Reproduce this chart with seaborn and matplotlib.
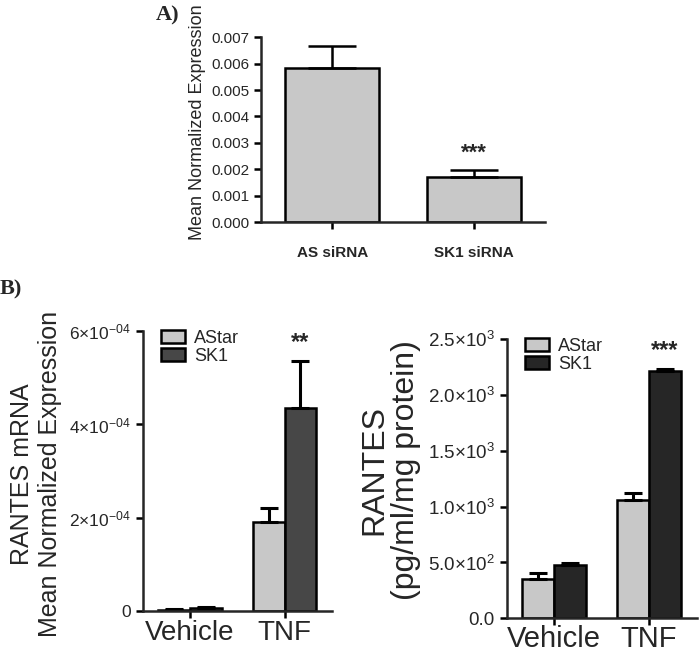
import numpy as np
import pandas as pd
import seaborn as sns
import matplotlib.pyplot as plt

# panel A data
cats_a = ["AS siRNA", "SK1 siRNA"]
mean_a = [0.00582, 0.00172]
err_a = [0.00085, 0.00026]

# panel B data
treat = ["Vehicle", "TNF"]
groups = ["AStar", "SK1"]
mrna_astar = [3e-6, 1.91e-4]
mrna_astar_err = [1e-6, 0.31e-4]
mrna_sk1 = [6e-6, 4.35e-4]
mrna_sk1_err = [2e-6, 1.0e-4]
prot_astar = [355, 1055]
prot_astar_err = [50, 65]
prot_sk1 = [475, 2215]
prot_sk1_err = [20, 20]

sns.set_style("ticks")
plt.rcParams["font.family"] = ["Liberation Sans", "DejaVu Sans"]
plt.rcParams["mathtext.fontset"] = "custom"
plt.rcParams["mathtext.rm"] = "Liberation Sans"
plt.rcParams["mathtext.it"] = "Liberation Sans:italic"
plt.rcParams["axes.linewidth"] = 1.8

fig = plt.figure(figsize=(7, 6.53), dpi=100)
ax_a = fig.add_axes([0.373, 0.660, 0.406, 0.283])
ax_b1 = fig.add_axes([0.204, 0.064, 0.270, 0.429])
ax_b2 = fig.add_axes([0.724, 0.053, 0.271, 0.428])


def style_axes(ax):
    sns.despine(ax=ax)
    ax.tick_params(width=1.8, length=5, color="black")


# ---- A
df_a = pd.DataFrame({"cat": cats_a, "val": mean_a})
sns.barplot(data=df_a, x="cat", y="val", color="#c8c8c8", edgecolor="black",
            linewidth=1.8, width=0.66, saturation=1, errorbar=None, ax=ax_a)
bars_a = list(ax_a.containers[0].patches)
for p, e in zip(bars_a, err_a):
    xc = p.get_x() + p.get_width() / 2
    ax_a.errorbar(xc, p.get_height(), yerr=[[0], [e]], color="black",
                  capsize=17, elinewidth=1.8, capthick=1.8, fmt="none")
p = bars_a[1]
ax_a.text(p.get_x() + p.get_width() / 2, 0.00222, "***", ha="center",
          va="bottom", fontsize=16, fontweight="bold")
ax_a.set_xlim(-0.5, 1.5)
ax_a.set_ylim(0, 0.007)
ax_a.set_yticks(np.arange(0, 0.0071, 0.001))
ax_a.set_yticklabels([f"{v:.3f}" for v in np.arange(0, 0.0071, 0.001)], fontsize=11)
ax_a.set_xlabel("")
ax_a.set_ylabel("Mean Normalized Expression", fontsize=13)
ax_a.yaxis.set_label_coords(-0.194, 0.54)
for t in ax_a.get_xticklabels():
    t.set_fontweight("bold")
    t.set_fontsize(11)
style_axes(ax_a)
ax_a.tick_params(axis="x", pad=12)
fig.text(0.222, 0.977, "A)", family="Liberation Serif", fontweight="bold",
         fontsize=16, ha="left", va="center")


def grouped(ax, a_vals, a_err, s_vals, s_err, dark, capsize, xsize, xpad):
    df = pd.DataFrame({
        "treat": treat * 2,
        "grp": [groups[0]] * 2 + [groups[1]] * 2,
        "val": a_vals + s_vals,
    })
    sns.barplot(data=df, x="treat", y="val", hue="grp", order=treat,
                hue_order=groups, palette=["#c8c8c8", dark], edgecolor="black",
                linewidth=1.8, width=0.67, saturation=1, errorbar=None,
                legend=False, ax=ax)
    conts = list(ax.containers)
    for cont, errs in zip(conts, [a_err, s_err]):
        for p, e in zip(cont.patches, errs):
            xc = p.get_x() + p.get_width() / 2
            ax.errorbar(xc, p.get_height(), yerr=[[0], [e]], color="black",
                        capsize=capsize, elinewidth=2.2, capthick=2.2, fmt="none")
    ax.set_xlim(-0.5, 1.5)
    ax.set_xlabel("")
    style_axes(ax)
    ax.tick_params(axis="x", labelsize=xsize, pad=xpad)
    ax.legend(handles=[c.patches[0] for c in conts], labels=groups,
              loc="upper left", bbox_to_anchor=(0.06, 1.03), frameon=False,
              fontsize=13, handlelength=1.3, handleheight=0.75,
              labelspacing=0.05, handletextpad=0.5, borderaxespad=0)
    return conts[1].patches[1]


# ---- B left
p = grouped(ax_b1, mrna_astar, mrna_astar_err, mrna_sk1, mrna_sk1_err,
            "#474747", 6.5, 20, 1)
ax_b1.text(p.get_x() + p.get_width() / 2, 5.5e-4, "**", ha="center",
           va="bottom", fontsize=17, fontweight="bold")
ax_b1.set_ylim(0, 6e-4)
ax_b1.set_yticks([0, 2e-4, 4e-4, 6e-4])
ax_b1.set_yticklabels(["0", r"$2{\times}10^{-04}$", r"$4{\times}10^{-04}$",
                       r"$6{\times}10^{-04}$"], fontsize=12.5)
ax_b1.set_ylabel("RANTES mRNA\nMean Normalized Expression", fontsize=18,
                 linespacing=1.2)
ax_b1.yaxis.set_label_coords(-0.43, 0.49)

# ---- B right
p = grouped(ax_b2, prot_astar, prot_astar_err, prot_sk1, prot_sk1_err,
            "#262626", 6.5, 21, 0)
ax_b2.text(p.get_x() + p.get_width() / 2, 2290, "***", ha="center",
           va="bottom", fontsize=17, fontweight="bold")
ax_b2.set_ylim(0, 2500)
ax_b2.set_yticks([0, 500, 1000, 1500, 2000, 2500])
ax_b2.set_yticklabels(["0.0", r"$5.0{\times}10^{2}$", r"$1.0{\times}10^{3}$",
                       r"$1.5{\times}10^{3}$", r"$2.0{\times}10^{3}$",
                       r"$2.5{\times}10^{3}$"], fontsize=13.5)
ax_b2.set_ylabel("RANTES\n(pg/ml/mg protein)", fontsize=23, linespacing=1.1)
ax_b2.yaxis.set_label_coords(-0.45, 0.53)

fig.text(0.0, 0.557, "B)", family="Liberation Serif", fontweight="bold",
         fontsize=16, ha="left", va="center")

fig.savefig("out.png", dpi=100)
